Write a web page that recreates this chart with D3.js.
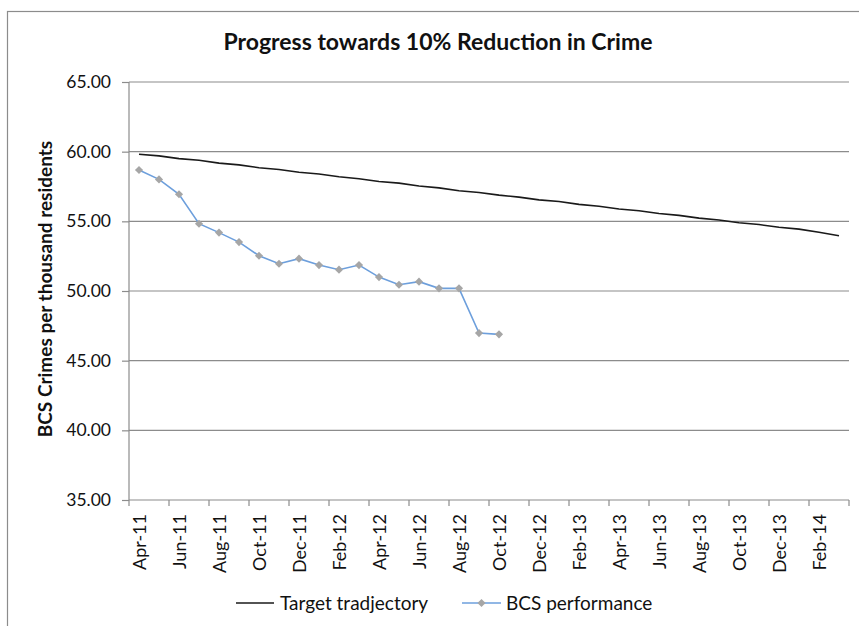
<!DOCTYPE html>
<html>
<head>
<meta charset="utf-8">
<script src="https://cdn.jsdelivr.net/npm/d3@7"></script>
<style>
  body { margin: 0; background: #fff; }
  text { font-family: Lato, "Open Sans", sans-serif; fill: #111; }
</style>
</head>
<body>
<div id="viz"></div>
<script>
// months Apr-11 .. Mar-14
var months = ["Apr-11", "May-11", "Jun-11", "Jul-11", "Aug-11", "Sep-11", "Oct-11", "Nov-11", "Dec-11",
  "Jan-12", "Feb-12", "Mar-12", "Apr-12", "May-12", "Jun-12", "Jul-12", "Aug-12", "Sep-12", "Oct-12",
  "Nov-12", "Dec-12", "Jan-13", "Feb-13", "Mar-13", "Apr-13", "May-13", "Jun-13", "Jul-13", "Aug-13",
  "Sep-13", "Oct-13", "Nov-13", "Dec-13", "Jan-14", "Feb-14", "Mar-14"]

var target = [59.82, 59.70, 59.50, 59.38, 59.18, 59.05, 58.85, 58.72, 58.52, 58.40, 58.20, 58.06,
  57.86, 57.74, 57.54, 57.40, 57.20, 57.07, 56.88, 56.74, 56.54, 56.42, 56.22, 56.08,
  55.88, 55.76, 55.56, 55.43, 55.23, 55.10, 54.90, 54.77, 54.57, 54.44, 54.22, 53.97]

var bcs = [58.68, 58.01, 56.94, 54.83, 54.19, 53.51, 52.53, 51.96, 52.32, 51.86, 51.53, 51.86,
  51.00, 50.45, 50.67, 50.19, 50.19, 46.98, 46.89]

var yTicks = [35, 40, 45, 50, 55, 60, 65]
var xLabels = months.filter(function (d, i) { return i % 2 == 0 })

var width = 859, height = 626
var plot = { left: 129, right: 849, top: 82, bottom: 500 }

var svg = d3.select("#viz").append("svg")
  .attr("width", width)
  .attr("height", height)

// chart border (cropped on right and bottom)
svg.append("rect")
  .attr("x", 7.5).attr("y", 11.5)
  .attr("width", 900).attr("height", 700)
  .attr("fill", "none")
  .attr("stroke", "#8c8c8c")
  .attr("stroke-width", 1.2)

var x = d3.scaleBand().domain(months).range([plot.left, plot.right])
var y = d3.scaleLinear().domain([35, 65]).range([plot.bottom, plot.top])
var cx = function (d) { return x(d) + x.bandwidth() / 2 }

// gridlines
svg.append("g").selectAll("line")
  .data(yTicks.slice(1))
  .enter().append("line")
  .attr("x1", plot.left).attr("x2", plot.right)
  .attr("y1", d => y(d)).attr("y2", d => y(d))
  .attr("stroke", "#8c8c8c")
  .attr("stroke-width", 1.2)

// y axis
var yAxis = svg.append("g")
  .attr("transform", "translate(" + plot.left + ",0)")
  .call(d3.axisLeft(y).tickValues(yTicks).tickSize(7).tickPadding(11).tickFormat(d3.format(".2f")))
yAxis.selectAll("path, line").attr("stroke", "#8c8c8c").attr("stroke-width", 1.2)
yAxis.select(".domain").attr("d", "M0," + plot.top + "V" + plot.bottom)
yAxis.selectAll("text")
  .style("font-family", "Lato, sans-serif")
  .style("font-size", "17.5px")
  .attr("fill", "#111")

// x axis
var xAxis = svg.append("g")
  .attr("transform", "translate(0," + plot.bottom + ")")
xAxis.append("line")
  .attr("x1", plot.left).attr("x2", plot.right)
  .attr("stroke", "#8c8c8c").attr("stroke-width", 1.2)
var tickPos = xLabels.map(d => x(d)).concat([plot.right])
xAxis.selectAll(".tk")
  .data(tickPos)
  .enter().append("line")
  .attr("class", "tk")
  .attr("x1", d => d).attr("x2", d => d)
  .attr("y1", 0).attr("y2", 6)
  .attr("stroke", "#8c8c8c").attr("stroke-width", 1.2)
xAxis.selectAll(".lbl")
  .data(xLabels)
  .enter().append("text")
  .attr("class", "lbl")
  .attr("transform", d => "translate(" + (cx(d) + 1) + ",14) rotate(-90)")
  .attr("text-anchor", "end")
  .attr("dy", "0.35em")
  .style("font-size", "18px")
  .text(d => d)

// title
svg.append("text")
  .attr("x", 438).attr("y", 50)
  .attr("text-anchor", "middle")
  .style("font-size", "23px")
  .style("font-weight", "bold")
  .text("Progress towards 10% Reduction in Crime")

// y axis title
svg.append("text")
  .attr("transform", "translate(52," + ((plot.top + plot.bottom) / 2 - 2) + ") rotate(-90)")
  .attr("text-anchor", "middle")
  .style("font-size", "19px")
  .style("font-weight", "bold")
  .text("BCS Crimes per thousand residents")

// target line
var line = d3.line()
  .x((d, i) => cx(months[i]))
  .y(d => y(d))

svg.append("path")
  .datum(target)
  .attr("d", line)
  .attr("fill", "none")
  .attr("stroke", "#1a1a1a")
  .attr("stroke-width", 1.6)

svg.append("path")
  .datum(bcs)
  .attr("d", line)
  .attr("fill", "none")
  .attr("stroke", "#6d9fdc")
  .attr("stroke-width", 1.6)

var diamond = d3.symbol().type(d3.symbolDiamond2).size(42)
svg.append("g").selectAll("path")
  .data(bcs)
  .enter().append("path")
  .attr("d", diamond)
  .attr("transform", (d, i) => "translate(" + cx(months[i]) + "," + y(d) + ")")
  .attr("fill", "#a6a6a6")

// legend
var legend = svg.append("g").attr("transform", "translate(0,603)")
legend.append("line")
  .attr("x1", 236).attr("x2", 274)
  .attr("stroke", "#1a1a1a").attr("stroke-width", 1.6)
legend.append("text")
  .attr("x", 280).attr("dy", "0.35em")
  .style("font-size", "19px")
  .text("Target tradjectory")
legend.append("line")
  .attr("x1", 462).attr("x2", 501)
  .attr("stroke", "#6d9fdc").attr("stroke-width", 1.6)
legend.append("path")
  .attr("d", diamond)
  .attr("transform", "translate(481.5,0)")
  .attr("fill", "#a6a6a6")
legend.append("text")
  .attr("x", 506).attr("dy", "0.35em")
  .style("font-size", "19px")
  .text("BCS performance")
</script>
</body>
</html>
